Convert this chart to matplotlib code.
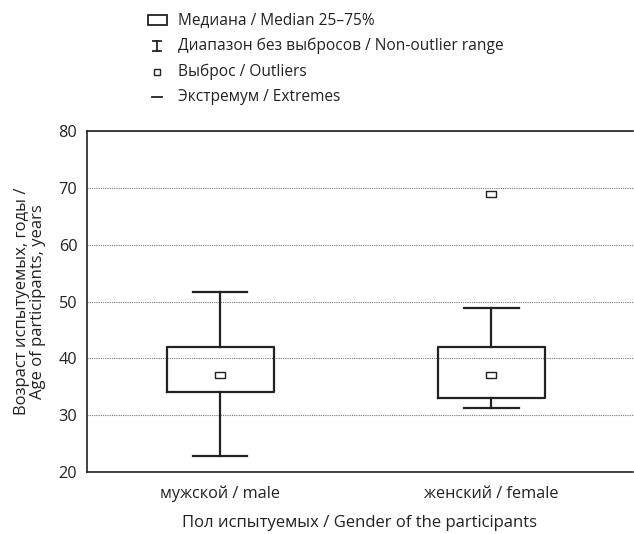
import matplotlib
matplotlib.use("Agg")
import matplotlib.pyplot as plt
from matplotlib.patches import Rectangle
from matplotlib.lines import Line2D

plt.rcParams['font.family'] = ['Open Sans', 'DejaVu Sans']

categories = ["мужской / male", "женский / female"]
q1 = [34.0, 33.0]
q3 = [42.0, 42.0]
medians = [37.0, 37.0]
whis_lo = [22.9, 31.2]
whis_hi = [51.6, 48.9]
outliers = [[], [68.9]]
yticks = [20, 30, 40, 50, 60, 70, 80]
legend_labels = ["Медиана / Median 25–75%",
                 "Диапазон без выбросов / Non-outlier range",
                 "Выброс / Outliers",
                 "Экстремум / Extremes"]

dark = "#222222"
fig = plt.figure(figsize=(6.34, 5.34), dpi=100)
ax = fig.add_axes([87/634, 1-472/534, 546/634, 341/534])

positions = list(range(len(categories)))
stats = []
for i in positions:
    stats.append(dict(med=medians[i], q1=q1[i], q3=q3[i], whislo=whis_lo[i],
                      whishi=whis_hi[i], fliers=[], label=categories[i]))
ax.bxp(stats, positions=positions, widths=0.395, showfliers=False,
       boxprops=dict(color=dark, linewidth=1.6),
       whiskerprops=dict(color=dark, linewidth=1.6),
       capprops=dict(color=dark, linewidth=1.6),
       capwidths=0.2,
       medianprops=dict(visible=False))

rect_marker = [(-1, -0.62), (1, -0.62), (1, 0.62), (-1, 0.62), (-1, -0.62)]
ax.plot(positions, medians, linestyle="none", marker=rect_marker, markersize=7,
        markerfacecolor="white", markeredgecolor=dark, markeredgewidth=1.0, zorder=5)
for i in positions:
    if outliers[i]:
        ax.plot([i]*len(outliers[i]), outliers[i], linestyle="none", marker=rect_marker,
                markersize=7, markerfacecolor="white", markeredgecolor=dark,
                markeredgewidth=1.0, zorder=5)

ax.set_xlim(-0.492, 1.522)
ax.set_ylim(20, 80)
ax.set_yticks(yticks)
ax.set_xticks(positions)
ax.set_xticklabels(categories)
ax.tick_params(axis="both", length=0, labelsize=11.7, colors=dark)
ax.tick_params(axis="y", pad=7)
ax.tick_params(axis="x", pad=10)
ax.yaxis.grid(True, linestyle=(0, (1, 1)), color="#777777", linewidth=0.8)
ax.set_axisbelow(True)
for s in ["left", "top", "bottom"]:
    ax.spines[s].set_color(dark)
    ax.spines[s].set_linewidth(1.2)
ax.spines["right"].set_visible(False)

ax.set_ylabel("Возраст испытуемых, годы /\nAge of participants, years",
              fontsize=12, color=dark, labelpad=9, linespacing=1.0)
ax.set_xlabel("Пол испытуемых / Gender of the participants",
              fontsize=12, color=dark, labelpad=9)

# legend drawn manually in figure pixel coordinates
W, H = 634, 534
def fx(px): return px / W
def fy(py): return 1 - py / H
rows_y = [20, 46, 72, 97]
text_x = 178
for y, lab in zip(rows_y, legend_labels):
    fig.text(fx(text_x), fy(y), lab, fontsize=11.2, color=dark, va="center", ha="left")
# box icon
fig.add_artist(Rectangle((fx(148), fy(25)), fx(19), 10/H, transform=fig.transFigure,
                         facecolor="white", edgecolor=dark, linewidth=1.3))
# I-beam icon
cx = 157
y0 = rows_y[1]
fig.add_artist(Line2D([fx(cx), fx(cx)], [fy(y0-5), fy(y0+5)], transform=fig.transFigure, color=dark, lw=1.3))
fig.add_artist(Line2D([fx(cx-4), fx(cx+4)], [fy(y0-5), fy(y0-5)], transform=fig.transFigure, color=dark, lw=1.3))
fig.add_artist(Line2D([fx(cx-4), fx(cx+4)], [fy(y0+5), fy(y0+5)], transform=fig.transFigure, color=dark, lw=1.3))
# outlier icon
fig.add_artist(Line2D([fx(157)], [fy(rows_y[2])], transform=fig.transFigure, marker="s",
                      markersize=5, markerfacecolor="white", markeredgecolor=dark, markeredgewidth=1.0))
# extreme icon
fig.add_artist(Line2D([fx(152), fx(162)], [fy(rows_y[3]), fy(rows_y[3])], transform=fig.transFigure, color=dark, lw=1.3))

fig.savefig("out.png", dpi=100)
